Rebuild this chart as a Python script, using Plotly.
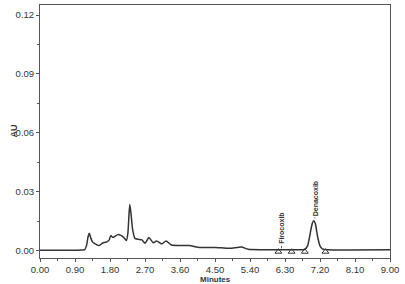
import plotly.graph_objects as go

minutes = [0, 0.5, 1.0, 1.15, 1.2, 1.24, 1.27, 1.3, 1.35, 1.42, 1.52, 1.58, 1.65, 1.72, 1.78,
           1.82, 1.87, 1.92, 2.0, 2.08, 2.15, 2.22, 2.26, 2.29, 2.31, 2.34, 2.38, 2.44, 2.52,
           2.62, 2.70, 2.80, 2.91, 3.0, 3.13, 3.24, 3.38, 3.6, 3.84, 4.11, 4.5, 4.88, 5.18,
           5.35, 5.9, 6.2, 6.5, 6.8, 6.88, 6.95, 7.0, 7.04, 7.08, 7.14, 7.2, 7.26, 7.4, 8.0, 9.0]
au = [0.0002, 0.0002, 0.0003, 0.0006, 0.003, 0.0075, 0.0089, 0.0068, 0.0045, 0.0035, 0.0026,
      0.0035, 0.0042, 0.0045, 0.0055, 0.0077, 0.0068, 0.0072, 0.0082, 0.0078, 0.0068, 0.0052,
      0.009, 0.019, 0.0235, 0.019, 0.011, 0.0063, 0.0058, 0.0055, 0.0038, 0.0067, 0.0041,
      0.005, 0.0034, 0.005, 0.0029, 0.0027, 0.0026, 0.0017, 0.0017, 0.0012, 0.0019, 0.0008,
      0.0005, 0.0005, 0.0005, 0.0006, 0.0025, 0.009, 0.0138, 0.0152, 0.0138, 0.007, 0.0025,
      0.001, 0.0005, 0.0004, 0.0005]

marker_t = [6.13, 6.47, 6.81, 7.34]
marker_y = [-0.0005, -0.0005, -0.0005, -0.0005]

peak_names = ["Firocoxib", "Denacoxib"]
peak_t = [6.21, 7.07]
peak_y = [0.0012, 0.0165]

x_ticks = [0, 0.9, 1.8, 2.7, 3.6, 4.5, 5.4, 6.3, 7.2, 8.1, 9.0]
y_ticks = [0, 0.03, 0.06, 0.09, 0.12]

col = "#333333"
fnt = "Liberation Sans, Arial"
fig = go.Figure()
fig.add_trace(go.Scatter(x=minutes, y=au, mode="lines",
                         line=dict(color=col, width=1.5, shape="spline", smoothing=0.5),
                         hoverinfo="skip"))
fig.add_trace(go.Scatter(x=marker_t, y=marker_y, mode="markers",
                         marker=dict(symbol="triangle-up-open", size=6, color=col,
                                     line=dict(width=1, color=col))))

for name, t, y in zip(peak_names, peak_t, peak_y):
    fig.add_annotation(x=t, y=y, text="<b>" + name + "</b>", textangle=-90,
                       showarrow=True, arrowhead=0, arrowwidth=0.8, arrowcolor=col,
                       ax=0, ay=-20, font=dict(family=fnt, size=7, color=col))

fig.add_annotation(xref="paper", yref="paper", x=0, y=0.5, xshift=-27, xanchor="center",
                   yanchor="middle", text="<b>AU</b>", textangle=-90, showarrow=False,
                   font=dict(family=fnt, size=9, color=col))
fig.add_annotation(xref="paper", yref="paper", x=0.5, y=0, yshift=-21, xanchor="center",
                   yanchor="middle", text="<b>Minutes</b>", showarrow=False,
                   font=dict(family=fnt, size=8, color=col))

axis_common = dict(showgrid=False, zeroline=False, showline=True, linecolor="#555555",
                   linewidth=1, mirror=True, ticks="outside", ticklen=3, tickcolor="#555555",
                   tickfont=dict(family=fnt, size=9.5, color=col))
fig.update_xaxes(range=[0, 9], tickvals=x_ticks, tickformat=".2f",
                 minor=dict(ticks="outside", ticklen=2, dtick=0.45, tick0=0, tickcolor="#555555"),
                 **axis_common)
fig.update_yaxes(range=[-0.0037, 0.1251], tickvals=y_ticks, tickformat=".2f",
                 minor=dict(ticks="outside", ticklen=2, dtick=0.015, tick0=0, tickcolor="#555555"),
                 **axis_common)
fig.update_layout(width=405, height=284, margin=dict(l=40, r=15, t=5, b=26),
                  plot_bgcolor="white", paper_bgcolor="white", showlegend=False)
fig.write_html("out.html")
